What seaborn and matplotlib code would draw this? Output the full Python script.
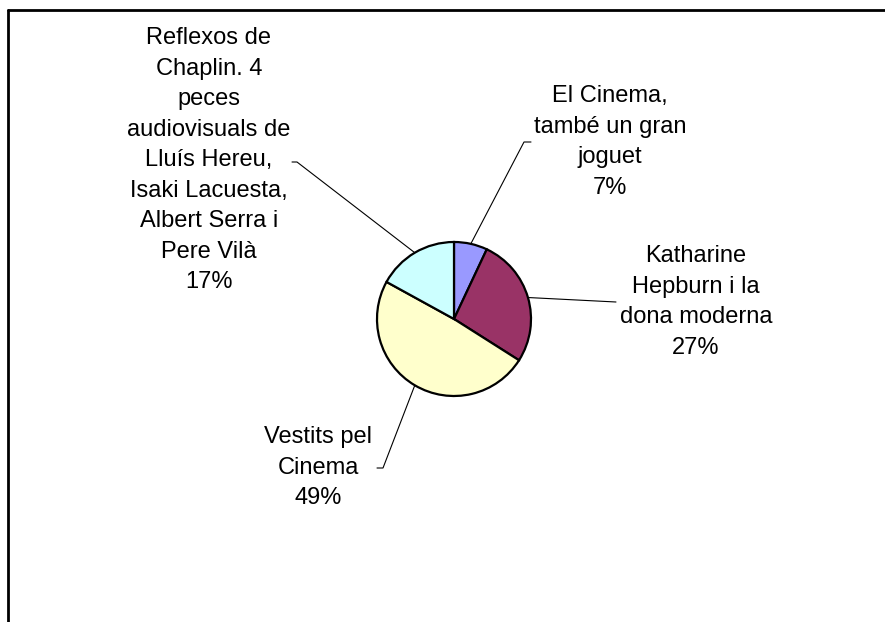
"""
Pie chart: share of visitors per exhibition (Excel-style pie with leader lines).
"""

import matplotlib
matplotlib.use("Agg")
import matplotlib.pyplot as plt
import numpy as np
import seaborn as sns

# ------------------------------------------------------------------------
#  Data
# ------------------------------------------------------------------------
exhibitions = [
    "El Cinema,\ntambé un gran\njoguet",
    "Katharine\nHepburn i la\ndona moderna",
    "Vestits pel\nCinema",
    "Reflexos de\nChaplin. 4\npeces\naudiovisuals de\nLluís Hereu,\nIsaki Lacuesta,\nAlbert Serra i\nPere Vilà",
]
shares = [7, 27, 49, 17]
slice_colors = ["#9999FF", "#993366", "#FFFFCC", "#CCFFFF"]

# ------------------------------------------------------------------------
#  Layout (pixel coords, y measured from the top)
# ------------------------------------------------------------------------
W, H = 885, 622
CENTER = (454, 319)
RADIUS = 77
# label centre, leader elbow, hook end
label_pos = [(610, 142), (696, 302), (318, 468), (209, 160)]
elbow_pos = [(524, 142), (616, 302), (383, 468), (297, 162)]
hook_pos = [(531, 142), None, (377, 468), (292, 162)]

sns.set_theme(style="white")
plt.rcParams["font.family"] = ["Liberation Sans", "DejaVu Sans"]

fig = plt.figure(figsize=(W / 100, H / 100), dpi=100)
fig.patch.set_facecolor("white")
ax = fig.add_axes([0, 0, 1, 1])


def flip(p):
    return p[0], H - p[1]


wedges, _ = ax.pie(
    shares,
    colors=sns.color_palette(slice_colors),
    startangle=90,
    counterclock=False,
    center=flip(CENTER),
    radius=RADIUS,
    wedgeprops=dict(edgecolor="black", linewidth=1.6),
    frame=True,
)
ax.set_xlim(0, W)
ax.set_ylim(0, H)
ax.set_aspect("equal")
ax.axis("off")

total = sum(shares)
cx, cy = flip(CENTER)
for i, (w, name, val) in enumerate(zip(wedges, exhibitions, shares)):
    mid = np.deg2rad((w.theta1 + w.theta2) / 2)
    start = (cx + RADIUS * np.cos(mid), cy + RADIUS * np.sin(mid))
    ex, ey = flip(elbow_pos[i])
    xs, ys = [start[0], ex], [start[1], ey]
    if hook_pos[i] is not None:
        hx, hy = flip(hook_pos[i])
        xs.append(hx)
        ys.append(hy)
    ax.plot(xs, ys, color="black", linewidth=0.8)

    lx, ly = flip(label_pos[i])
    ax.text(lx, ly, f"{name}\n{val / total * 100:.0f}%", ha="center", va="center",
            fontsize=17, linespacing=1.5, color="black")

# chart area frame (only top and left edges visible)
ax.plot([8, W], [H - 10, H - 10], color="black", linewidth=2, clip_on=False)
ax.plot([8, 8], [0, H - 10], color="black", linewidth=2, clip_on=False)

fig.savefig("out.png", dpi=100)
plt.close(fig)
